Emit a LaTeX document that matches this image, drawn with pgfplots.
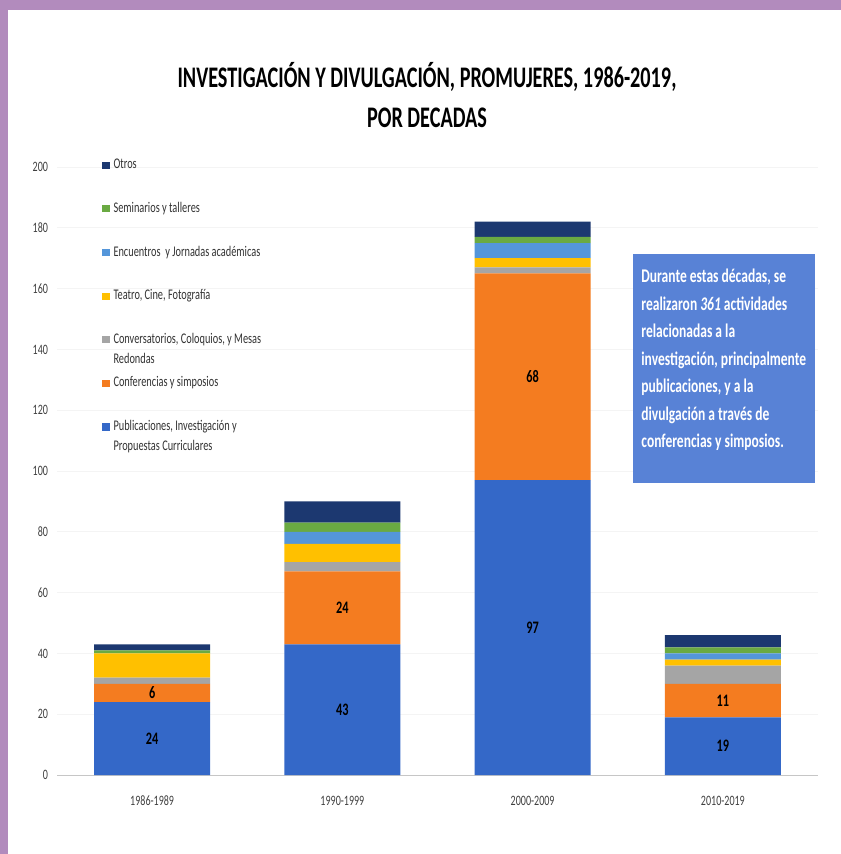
\documentclass[border=0pt]{standalone}
\usepackage{fontspec}
\setmainfont{Carlito}[FakeStretch=0.7]
\newfontfamily\titlefont{Carlito}[FakeStretch=0.677]
\usepackage{pgfplots}
\usepackage{pgfplotstable}
\pgfplotsset{compat=1.18}

\definecolor{cPub}{RGB}{52,104,200}
\definecolor{cConf}{RGB}{244,124,32}
\definecolor{cConv}{RGB}{165,165,165}
\definecolor{cTeat}{RGB}{255,192,0}
\definecolor{cEnc}{RGB}{84,150,218}
\definecolor{cSem}{RGB}{106,170,66}
\definecolor{cOtr}{RGB}{28,56,112}
\definecolor{cBox}{RGB}{88,130,214}
\definecolor{cFrame}{RGB}{178,139,189}

% actividades por decada (x = 0..3)
\pgfplotstableread{
x pub conf conv teat enc sem otr
0 24 6  2 8 0 1 2
1 43 24 3 6 4 3 7
2 97 68 2 3 5 2 5
3 19 11 6 2 2 2 4
}\datos

\newcommand{\ent}[1]{\raisebox{0pt}[6pt][0pt]{\begin{tabular}[t]{@{}l@{}}#1\end{tabular}}}

\pgfplotsset{
  seg/.style={fill=#1, draw=none,
    legend image code/.code={\fill[fill=#1] (0pt,0pt) rectangle (3.6pt,3.6pt);}},
  % with anchor=center the stacked labels already sit mid-segment
  lbl/.style={nodes near coords,
    every node near coord/.style={anchor=center,
      font=\fontsize{8.8}{9}\selectfont\bfseries, text=black}},
}

\begin{document}
\begin{tikzpicture}
\begin{scope}[x=0.5bp,y=-0.5bp]
  \fill[cFrame] (0,0) rectangle (841,854);
  \fill[white] (8,10) rectangle (841,854);
  \node[anchor=base, font=\titlefont\fontsize{15}{18}\selectfont\bfseries] at (427,87)
    {INVESTIGACIÓN Y DIVULGACIÓN, PROMUJERES, 1986-2019,};
  \node[anchor=base, font=\titlefont\fontsize{15}{18}\selectfont\bfseries] at (427,127)
    {POR DECADAS};
\end{scope}

\begin{axis}[
  at={(28.5bp,-387.5bp)}, anchor=south west,
  scale only axis, width=380.5bp, height=304bp,
  ybar stacked, bar width=58bp,
  xmin=-0.5, xmax=3.5, ymin=0, ymax=200,
  ytick={0,20,...,200},
  xtick=data, xticklabels={1986-1989,1990-1999,2000-2009,2010-2019},
  axis x line*=bottom, axis y line*=left,
  x axis line style={draw=gray!45},
  y axis line style={draw=none},
  major tick length=0pt,
  ymajorgrids, grid style={draw=gray!9},
  /pgf/number format/assume math mode=true,
  tick label style={font=\fontsize{7.2}{8}\selectfont, text=black!75},
  xticklabel style={yshift=-7bp},
  yticklabel style={xshift=-1bp},
  legend style={at={(rel axis cs:0.0591,1.0238)}, anchor=north west,
    draw=none, fill=none, inner sep=0pt,
    font=\fontsize{7.4}{10}\selectfont, text=black!80,
    row sep=10.35bp, column sep=0pt,
    cells={anchor=base west}},
  reverse legend,
]
\addplot[seg=cPub, lbl] table[x=x,y=pub]{\datos};
\addlegendentry{\ent{Publicaciones, Investigación y\\Propuestas Curriculares}}
\addplot[seg=cConf, lbl] table[x=x,y=conf]{\datos};
\addlegendentry{\ent{Conferencias y simposios}}
\addplot[seg=cConv] table[x=x,y=conv]{\datos};
\addlegendentry{\ent{Conversatorios, Coloquios, y Mesas\\Redondas}}
\addplot[seg=cTeat] table[x=x,y=teat]{\datos};
\addlegendentry{\ent{Teatro, Cine, Fotografía}}
\addplot[seg=cEnc] table[x=x,y=enc]{\datos};
\addlegendentry{\ent{Encuentros\ \ y Jornadas académicas}}
\addplot[seg=cSem] table[x=x,y=sem]{\datos};
\addlegendentry{\ent{Seminarios y talleres}}
\addplot[seg=cOtr] table[x=x,y=otr]{\datos};
\addlegendentry{\ent{Otros}}
\end{axis}

\begin{scope}[x=0.5bp,y=-0.5bp]
  \fill[cBox] (633,254) rectangle (815,483);
  \node[anchor=north west, inner sep=0pt, align=left, text=white,
        font=\fontsize{9.7}{13.8}\selectfont\bfseries] at (641,269)
    {Durante estas décadas, se\\
     realizaron \textit{361} actividades\\
     relacionadas a la\\
     investigación, principalmente\\
     publicaciones, y a la\\
     divulgación a través de\\
     conferencias y simposios.};
\end{scope}
\end{tikzpicture}
\end{document}
